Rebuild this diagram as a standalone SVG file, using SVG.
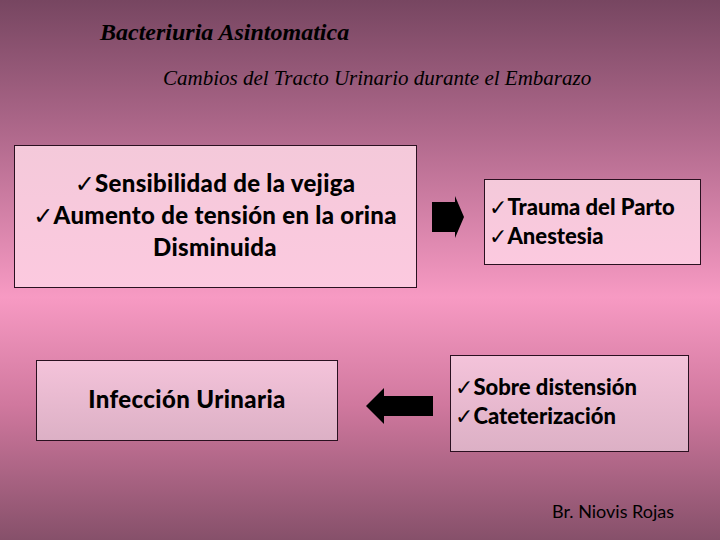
<svg xmlns="http://www.w3.org/2000/svg" width="720" height="540" viewBox="0 0 720 540">
<defs>
<linearGradient id="bg" x1="0" y1="0" x2="0" y2="1">
<stop offset="0" stop-color="#774661"/>
<stop offset="0.25" stop-color="#b0698c"/>
<stop offset="0.55" stop-color="#f79ac3"/>
<stop offset="0.75" stop-color="#d0789e"/>
<stop offset="1" stop-color="#86506a"/>
</linearGradient>
<linearGradient id="box" x1="0" y1="0" x2="0" y2="1">
<stop offset="0" stop-color="#f4c9da"/>
<stop offset="1" stop-color="#fcc9df"/>
</linearGradient>
<linearGradient id="box2" x1="0" y1="0" x2="0" y2="1">
<stop offset="0" stop-color="#f4c3da"/>
<stop offset="1" stop-color="#dcb0c5"/>
</linearGradient>
<style>
.b{stroke:#2a1020;stroke-width:1}
.t{font-family:Lato,"Open Sans",sans-serif;font-weight:900;fill:#000}
.c{font-family:"DejaVu Sans",sans-serif;font-weight:normal}
.h{font-family:"Liberation Serif",serif;font-style:italic;fill:#000}
</style>
</defs>
<rect width="720" height="540" fill="url(#bg)"/>
<text class="h" x="100" y="40" font-size="24" font-weight="bold">Bacteriuria Asintomatica</text>
<text class="h" x="163" y="85" font-size="21">Cambios del Tracto Urinario durante el Embarazo</text>
<g id="n1">
<rect class="b" x="14.5" y="145.5" width="402" height="142" fill="url(#box)"/>
<text class="t" font-size="24" letter-spacing="0.3" text-anchor="middle"><tspan x="215" y="192"><tspan class="c">✓</tspan>Sensibilidad de la vejiga</tspan><tspan x="215" y="224"><tspan class="c">✓</tspan>Aumento de tensión en la orina</tspan><tspan x="215" y="256">Disminuida</tspan></text>
</g>
<g id="n2">
<rect class="b" x="484.5" y="179.5" width="216" height="85" fill="url(#box)"/>
<text class="t" font-size="22"><tspan x="489" y="215"><tspan class="c">✓</tspan>Trauma del Parto</tspan><tspan x="489" y="244"><tspan class="c">✓</tspan>Anestesia</tspan></text>
</g>
<g id="n3">
<rect class="b" x="36.5" y="360.5" width="301" height="80" fill="url(#box2)"/>
<text class="t" font-size="24" letter-spacing="0.4" text-anchor="middle" x="187" y="408">Infección Urinaria</text>
</g>
<g id="n4">
<rect class="b" x="450.5" y="355.5" width="238" height="96" fill="url(#box2)"/>
<text class="t" font-size="22"><tspan x="455" y="395"><tspan class="c">✓</tspan>Sobre distensión</tspan><tspan x="455" y="424"><tspan class="c">✓</tspan>Cateterización</tspan></text>
</g>
<g id="connectors" fill="#000">
<polygon points="432,202 455,202 455,196 464,217 455,238 455,232 432,232"/>
<polygon points="433,396 384,396 384,388 366,406 384,424 384,416 433,416"/>
</g>
<text x="552" y="518" font-family="Lato,sans-serif" font-size="18" fill="#000">Br. Niovis Rojas</text>
</svg>
